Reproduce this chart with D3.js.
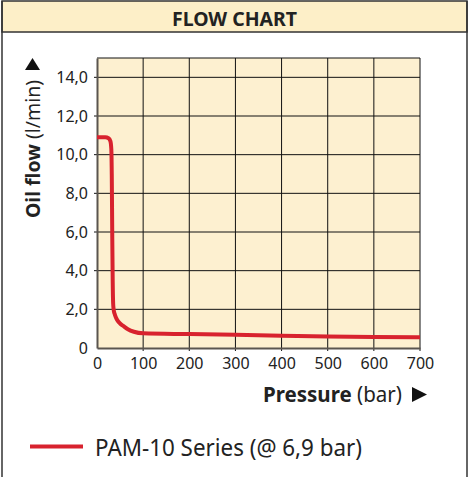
<!DOCTYPE html>
<html>
<head>
<meta charset="utf-8">
<script src="https://cdn.jsdelivr.net/npm/d3@7"></script>
<style>
  body { margin: 0; background: #fff; }
  text { font-family: "Noto Sans", "Open Sans", sans-serif; fill: #222; }
</style>
</head>
<body>
<script>
// values
const pressure = [0, 18, 25, 29, 31, 32, 33, 34, 35, 36, 38, 41, 45, 50, 57, 67, 80, 100, 200, 300, 400, 500, 600, 700]
const oilFlow = [10.9, 10.9, 10.85, 10.7, 10.3, 9.0, 6.0, 3.5, 2.3, 2.0, 1.78, 1.58, 1.4, 1.27, 1.14, 0.97, 0.84, 0.76, 0.72, 0.68, 0.64, 0.6, 0.57, 0.55]
const xTicks = [0, 100, 200, 300, 400, 500, 600, 700]
const yTicks = [0, 2, 4, 6, 8, 10, 12, 14]
const seriesName = 'PAM-10 Series (@ 6,9 bar)'

const W = 472, H = 477
const svg = d3.select('body').append('svg')
  .attr('width', W)
  .attr('height', H)

// outer frame + header
svg.append('rect')
  .attr('x', 2).attr('y', 1).attr('width', 465).attr('height', 31)
  .attr('fill', '#fdefc8').attr('stroke', '#333').attr('stroke-width', 1.5)
svg.append('line').attr('x1', 2).attr('x2', 2).attr('y1', 1).attr('y2', H)
  .attr('stroke', '#333').attr('stroke-width', 1.5)
svg.append('line').attr('x1', 467).attr('x2', 467).attr('y1', 1).attr('y2', H)
  .attr('stroke', '#333').attr('stroke-width', 1.5)
svg.append('text')
  .attr('x', 234.5).attr('y', 26)
  .attr('text-anchor', 'middle')
  .attr('font-size', 20).attr('font-weight', 'bold')
  .attr('textLength', 125).attr('lengthAdjust', 'spacingAndGlyphs')
  .text('FLOW CHART')

const x = d3.scaleLinear().domain([0, 700]).range([97, 420])
const y = d3.scaleLinear().domain([0, 15]).range([348, 58])

// plot background
svg.append('rect')
  .attr('x', x(0)).attr('y', y(15))
  .attr('width', x(700) - x(0)).attr('height', y(0) - y(15))
  .attr('fill', '#fdf0d0')

// grid
const grid = svg.append('g').attr('stroke', '#111').attr('stroke-width', 1)
grid.selectAll('.vg').data(xTicks.slice(1)).enter().append('line')
  .attr('x1', d => x(d)).attr('x2', d => x(d))
  .attr('y1', y(15)).attr('y2', y(0) + 3)
grid.selectAll('.hg').data(yTicks.slice(1)).enter().append('line')
  .attr('x1', x(0) - 3).attr('x2', x(700))
  .attr('y1', d => y(d)).attr('y2', d => y(d))
grid.append('line')
  .attr('x1', x(0)).attr('x2', x(700))
  .attr('y1', y(15)).attr('y2', y(15))

// axes
svg.append('g')
  .attr('transform', 'translate(0,' + y(0) + ')')
  .call(d3.axisBottom(x).tickValues(xTicks).tickSize(0).tickPadding(10))
  .call(g => g.select('.domain').attr('stroke', '#5a554f').attr('stroke-width', 2))
  .call(g => g.selectAll('text').attr('font-size', 16).attr('fill', '#222')
    .attr('font-family', '"Noto Sans", sans-serif'))

svg.append('g')
  .attr('transform', 'translate(' + x(0) + ',0)')
  .call(d3.axisLeft(y).tickValues(yTicks).tickSize(0).tickPadding(9)
    .tickFormat(d => d === 0 ? '0' : d.toFixed(1).replace('.', ',')))
  .call(g => g.select('.domain').attr('stroke', '#5a554f').attr('stroke-width', 2))
  .call(g => g.selectAll('text').attr('font-size', 16).attr('fill', '#222')
    .attr('font-family', '"Noto Sans", sans-serif'))

// the curve
const line = d3.line()
  .x(d => x(d[0]))
  .y(d => y(d[1]))
  .curve(d3.curveMonotoneX)
svg.append('path')
  .datum(d3.zip(pressure, oilFlow))
  .attr('fill', 'none')
  .attr('stroke', '#d8222e')
  .attr('stroke-width', 4)
  .attr('stroke-linejoin', 'round')
  .attr('d', line)

// axis titles
const yt = svg.append('text')
  .attr('transform', 'translate(40,149) rotate(-90)')
  .attr('text-anchor', 'middle')
  .attr('font-size', 20)
  .attr('textLength', 138).attr('lengthAdjust', 'spacingAndGlyphs')
yt.append('tspan').attr('font-weight', 'bold').text('Oil flow')
yt.append('tspan').text(' (l/min)')
svg.append('path')
  .attr('d', 'M25,70 L32.5,58 L40,70 Z')
  .attr('fill', '#111')

const xt = svg.append('text')
  .attr('x', 263).attr('y', 402)
  .attr('font-size', 21)
  .attr('textLength', 139).attr('lengthAdjust', 'spacingAndGlyphs')
xt.append('tspan').attr('font-weight', 'bold').text('Pressure')
xt.append('tspan').text(' (bar)')
svg.append('path')
  .attr('d', 'M412,387 L427,394.5 L412,402 Z')
  .attr('fill', '#111')

// legend
svg.append('line')
  .attr('x1', 30).attr('x2', 83)
  .attr('y1', 446.5).attr('y2', 446.5)
  .attr('stroke', '#d8222e').attr('stroke-width', 4)
svg.append('text')
  .attr('x', 95).attr('y', 456)
  .attr('font-size', 24)
  .attr('textLength', 267).attr('lengthAdjust', 'spacingAndGlyphs')
  .text(seriesName)
</script>
</body>
</html>
